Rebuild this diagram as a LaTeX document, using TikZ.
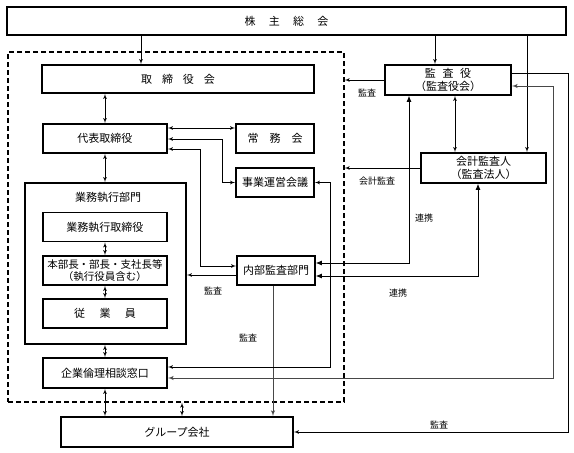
\documentclass[tikz,border=0pt]{standalone}
\usepackage{fontspec}
\setmainfont{Noto Sans CJK JP}
\usetikzlibrary{shapes,arrows,arrows.meta}
\tikzstyle{block} = [draw, line width=1.8pt, fill=white, rectangle, inner sep=1pt,
    minimum height=29pt, minimum width=124pt, font=\fontsize{11}{13}\selectfont]
\tikzstyle{dashbox} = [draw, line width=1.3pt, dash pattern=on 5pt off 3pt, rectangle]
\tikzstyle{note} = [inner sep=0pt, font=\fontsize{9}{10}\selectfont]
\tikzstyle{link} = [line width=0.7pt]
\tikzstyle{greylink} = [line width=1pt, draw=black!72]
\tikzstyle{bigtip} = [>={Latex[length=6pt,width=5pt]}]

\begin{document}
\begin{tikzpicture}[x=1pt, y=-1pt, auto, >=latex']
    \useasboundingbox (0,0) rectangle (574,453);

    \node [dashbox, minimum width=336pt, minimum height=350pt] (frame) at (176,227) {};
    \node [block, minimum width=559pt, minimum height=28pt] (soukai) at (286.5,21)
        {株\hspace{1.2em}主\hspace{1.2em}総\hspace{1.2em}会};
    \node [block, minimum width=272pt, minimum height=28pt] (torikai) at (178,79)
        {取\hspace{0.9em}締\hspace{0.9em}役\hspace{0.9em}会};
    \node [block, minimum width=126pt, minimum height=30pt, align=center] (kansa) at (448,80)
        {監\hspace{0.6em}査\hspace{0.6em}役\\（監査役会）};
    \node [block] (daihyo) at (105,138.5) {代表取締役};
    \node [block, minimum width=78pt] (jomu) at (275,138.5) {常\hspace{1em}務\hspace{1em}会};
    \node [block, minimum width=78pt] (jigyo) at (275,182.5) {事業運営会議};
    \node [block, minimum width=125pt, minimum height=30pt, align=center] (kaikei) at (483.5,168)
        {会計監査人\\（監査法人）};

    \node [block, minimum width=161pt, minimum height=161pt] (gyomu) at (105.5,263.5) {};
    \node [note, font=\fontsize{11}{13}\selectfont] (gyomu_title) at (108,197) {業務執行部門};
    \node [block] (gyomutori) at (105,227) {業務執行取締役};
    \node [block, align=center, font=\fontsize{10.5}{12.5}\selectfont] (honbu) at (105,270.5)
        {本部長・部長・支社長等\\（執行役員含む）};
    \node [block] (jugyo) at (105,313.5) {従\hspace{1.3em}業\hspace{1.3em}員};
    \node [block, minimum width=78pt] (naibu) at (276,270.5) {内部監査部門};
    \node [block, minimum height=30pt] (rinri) at (105,373) {企業倫理相談窓口};
    \node [block, minimum width=232pt, minimum height=30pt] (group) at (177,432) {グループ会社};

    \draw [link, ->] ([xshift=-37pt]torikai.north |- soukai.south) -- ([xshift=-37pt]torikai.north);
    \draw [link, ->] ([xshift=-13pt]kansa.north |- soukai.south) -- ([xshift=-13pt]kansa.north);
    \draw [link, ->] ([xshift=43.5pt]kaikei.north |- soukai.south) -- ([xshift=43.5pt]kaikei.north);
    \draw [link, <->] ([xshift=7pt]kansa.south) -- ([xshift=7pt]kansa.south |- kaikei.north);
    \draw [link, ->] (kansa) -- (kansa -| frame.east);
    \draw [link, ->] (kaikei) -- (kaikei -| frame.east);

    \draw [link, <->] (daihyo) -- (daihyo |- torikai.south);
    \draw [link, <->] (daihyo) -- (daihyo |- gyomu.north);
    \draw [link, <->] (gyomutori) -- (honbu);
    \draw [link, <->] (honbu) -- (jugyo);
    \draw [link, <->] (rinri) -- (rinri |- gyomu.south);
    \draw [link, <->] (rinri) -- (rinri |- group.north);
    \draw [link, <->] ([xshift=5pt]group.north) -- ([xshift=5pt]group.north |- frame.south);

    \draw [link, <->] ([yshift=10.5pt]daihyo.east) -- ([yshift=10.5pt]daihyo.east -| jomu.west);
    \draw [link, <->] ([yshift=-0.5pt]daihyo.east) -- ++(54,0) |- (jigyo);
    \draw [link, <->] ([yshift=-10.5pt]daihyo.east) -- ++(32,0) |- ([yshift=4.5pt]naibu.west);
    \draw [link, ->] ([yshift=-4.5pt]naibu.west) -- ([yshift=-4.5pt]naibu.west -| gyomu.east);
    \draw [greylink, ->] ([xshift=-3pt]naibu.south) -- ([xshift=-3pt]naibu.south |- group.north);
    \draw [link, bigtip, <->] ([yshift=7.5pt]naibu.east) -| ([xshift=-39pt]kansa.south);
    \draw [link, bigtip, <->] ([yshift=-5.5pt]naibu.east) -| ([xshift=-5.5pt]kaikei.south);
    \draw [link, <->] ([yshift=6pt]rinri.east) -- ++(162.5,0) |- (jigyo);
    \draw [greylink, <->] ([yshift=-5pt]rinri.east) -- ++(385.5,0) |- ([yshift=-6pt]kansa.east);
    \draw [link, ->] ([yshift=7pt]kansa.east) -- ++(56,0) |- (group);

    \node [note] (kansa_lbl1) at (367,93) {監査};
    \node [note] (kaikei_lbl) at (377,181) {会計監査};
    \node [note] (renkei_lbl1) at (424,218) {連携};
    \node [note] (renkei_lbl2) at (398,293) {連携};
    \node [note] (kansa_lbl2) at (213,291) {監査};
    \node [note] (kansa_lbl3) at (248,338) {監査};
    \node [note] (kansa_lbl4) at (439,425) {監査};
\end{tikzpicture}
\end{document}
